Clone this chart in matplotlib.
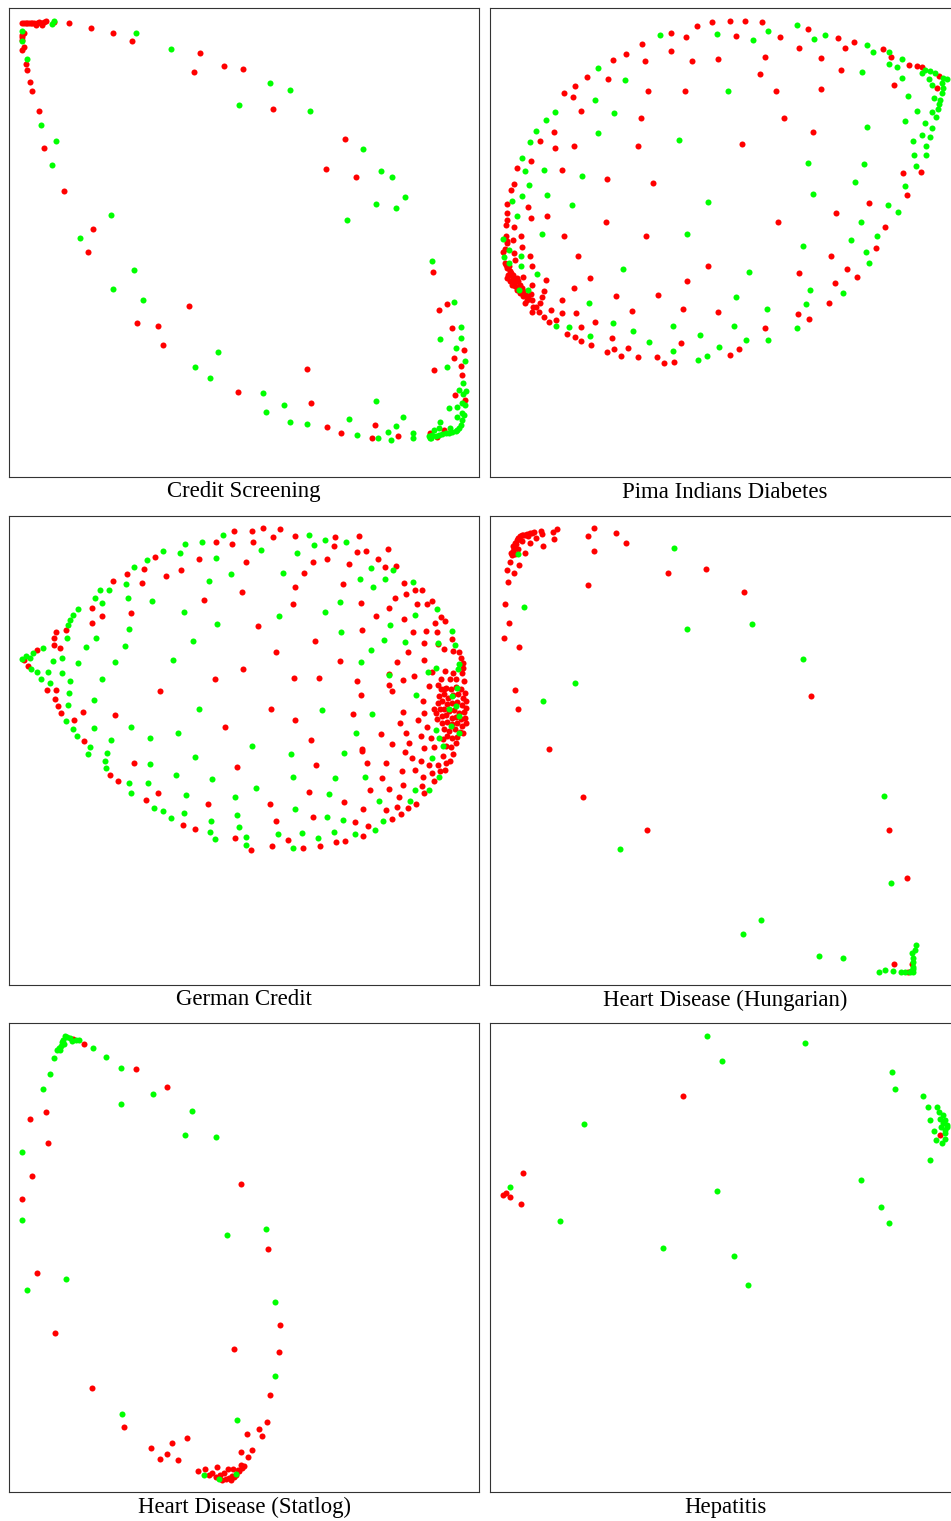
import matplotlib
matplotlib.use("Agg")
import matplotlib.pyplot as plt
import numpy as np

titles = ["Credit Screening", "Pima Indians Diabetes", "German Credit",
          "Heart Disease (Hungarian)", "Heart Disease (Statlog)", "Hepatitis"]

# ---- Credit Screening ----
credit_red = [(40,45),(45,44),(50,45),(55,44),(60,45),(65,44),(70,46),(75,45),(80,52),(85,44),(90,42),(95,44),
 (100,50),(105,42),(110,38),(135,42),(180,46),(247,60),(311,74),(369,100),(572,134),(554,192),(644,174),(703,183),
 (793,303),(1007,393),(950,484),(1040,507),(166,548),(252,663),(45,75),(40,80),(40,88),(40,95),(45,118),(40,126),
 (51,168),(53,185),(64,221),(68,250),(89,309),(105,421),
 (237,733),(383,945),(447,955),(462,1012),(539,895),(688,1153),(894,1084),(907,1185),(954,1258),(997,1274),
 (1089,1291),(1098,1251),(1167,1285),(1271,791),(1290,907),(1315,888),(1329,959),(1366,1027),(1335,1050),
 (1356,1075),(1275,1086),(1359,1100),(1338,1162),(1367,1175),(1263,1275),(1285,1287),(1305,1267)]
credit_green = [(135,38),(128,48),(382,75),(487,122),(783,224),(843,247),(690,292),(904,310),(1063,422),(1116,488),
 (1150,506),(1188,567),(1101,589),(1162,601),(1015,637),(305,620),(214,690),(55,154),(97,352),(142,400),(128,472),
 (38,70),(40,100),
 (375,787),(313,842),(401,877),(627,1032),(557,1076),(602,1111),(763,1155),(770,1213),(826,1190),(844,1241),
 (895,1247),(1019,1233),(1045,1281),(1101,1180),(1107,1290),(1137,1273),(1145,1295),(1161,1255),(1182,1228),
 (1212,1276),(1211,1290),(1262,1291),(1269,758),(1335,883),(1355,958),(1294,992),(1356,991),(1341,1020),
 (1369,1060),(1314,1076),(1363,1126),(1351,1147),(1370,1148),(1362,1157),(1358,1185),(1368,1192),(1320,1201),
 (1344,1197),(1343,1226),(1360,1215),(1364,1220),(1294,1243),(1276,1267),(1291,1260),(1268,1280),(1265,1291),
 (1324,1261),(1350,1260),(1300,1278),(1310,1275),(1320,1275),(1330,1273),(1340,1270),(1355,1250),(1360,1235),
 (1345,1265),(1260,1285),(1280,1283),(1290,1280)]

# ---- Pima Indians Diabetes ----
pima_red = [(620,55),(666,41),(719,38),(766,40),(815,41),(955,62),(544,75),(587,87),(739,83),(870,86),(1043,90),
 (1092,103),(1065,121),(927,121),(1178,122),(1204,147),(455,109),(408,138),(368,156),(466,160),(543,130),(606,159),
 (685,154),(824,147),(993,150),(1052,187),(1257,171),(1281,173),(1297,177),(1347,205),(1341,241),(1211,232),
 (811,197),(292,206),(353,213),(256,235),(222,254),(250,268),(474,248),(585,249),(857,250),(994,244),(273,308),
 (453,331),(882,330),(191,373),(151,400),(194,421),(251,413),(445,415),(756,409),(970,372),(124,459),(81,481),
 (216,486),(350,512),(488,526),(71,528),(63,547),(52,588),(113,596),(51,615),(50,636),(123,630),(171,624),(47,652),
 (72,657),(347,641),(864,641),(1039,615),(1136,586),(1184,656),(1250,561),(1292,492),(1239,494),(48,684),(93,684),
 (223,683),(469,685),(52,700),(70,697),
 (52,705),(96,717),(44,723),(40,731),(72,735),(120,745),(75,757),(264,743),(126,775),(44,765),(50,780),(60,790),
 (55,800),(65,805),(52,810),(60,820),(70,815),(99,808),(167,817),(65,830),(75,835),(80,845),(90,855),(100,865),
 (110,875),(105,885),(126,830),(162,848),(123,857),(156,867),(215,875),(127,877),(149,886),(137,896),(130,898),
 (126,912),(147,912),(183,906),(216,916),(259,916),(162,926),(178,941),(198,936),(252,841),(301,810),(378,865),
 (427,909),(504,861),(590,819),(654,773),(578,904),(684,912),(926,795),(1022,743),(1071,783),(1101,808),(1036,826),
 (1017,886),(923,918),(957,934),(824,960),(1158,720),(231,977),(254,987),(273,956),(274,998),(304,1010),(314,941),
 (367,991),(350,1031),(373,1024),(414,1019),(392,1044),(444,1048),(501,1047),(522,1065),(552,1062),(574,1004),
 (719,1042),(746,1022),
 (48,770),(58,775),(62,795),(70,800),(80,810),(85,820),(90,830),(95,840),(72,825),(82,838),(92,848),(100,850),
 (108,860),(115,868)]
pima_green = [(510,81),(681,79),(833,68),(788,96),(922,50),(971,93),(1006,80),(1132,110),(1149,131),(1196,131),
 (1196,167),(1236,154),(1222,177),(1305,185),(1295,196),(1320,190),(1335,195),(1318,212),(1359,210),(1370,212),
 (1355,225),(1326,230),(1360,240),(1355,255),(1333,270),(1350,275),(1347,288),(1345,303),(1338,328),(1327,311),
 (1282,308),(1236,209),(1255,265),(1245,340),(1306,346),(1327,359),(1295,380),(1320,387),(1268,398),(1309,415),
 (1307,440),(1273,441),(1277,475),(1245,534),(1195,590),(1225,611),(1114,641),(1161,683),(1082,697),(1116,192),
 (1130,358),(1122,468),(1095,523),(954,464),(970,558),(653,581),(590,679),(567,397),(715,248),(323,179),(406,216),
 (316,275),(372,315),(324,375),(196,313),(167,336),(138,369),(119,403),(95,449),(106,490),(163,487),(277,504),
 (118,531),(95,564),(170,560),(67,579),(247,591),(80,623),(155,679),(40,693),
 (58,727),(92,745),(42,747),(93,773),(140,799),(115,845),(86,846),(58,765),(197,955),(238,956),(298,886),(301,983),
 (370,944),(428,970),(400,784),(478,1001),(550,955),(549,1028),(631,982),(623,1057),(650,1045),(686,1016),
 (733,955),(739,868),(778,791),(769,996),(830,903),(833,995),(921,959),(947,887),(961,845),(1059,854),(939,714),
 (1128,732),(1137,766)]

# ---- German Credit ----
german_red = [(675,44),(729,45),(761,37),(813,38),(792,62),(857,59),(978,62),(620,79),(670,85),(732,78),(974,90),
 (1044,109),(1071,106),(1107,130),(1128,152),(1160,149),(954,130),(912,138),(1021,144),(885,170),(858,214),
 (853,264),(1001,205),(712,138),(571,130),(517,163),(472,179),(438,122),(405,159),(354,173),(312,195),(400,202),
 (700,229),(584,252),(366,292),(280,301),(249,275),(249,322),(141,349),(170,343),(134,366),(136,388),(152,396),
 (83,403),(45,432),(58,450),(747,331),(918,375),(802,408),(702,459),(618,488),(854,486),(929,486),(994,436),
 (452,526),(1045,496),(1056,537),(1150,526),(1163,437),(1197,408),(1245,433),(1270,468),(1215,480),(1182,492),
 (1141,475),(1186,308),(1213,349),(1245,382),(1251,344),(1285,348),(1287,383),(1277,321),(1296,302),(1309,316),
 (1328,370),(1306,398),(1333,406),(1349,408),(1357,425),(1362,440),(1331,472),(1362,455),(1307,465),(1297,490),
 (1322,488),(1342,488),(1366,494),(1360,470),(1225,264),(1253,265),(1268,256),(1141,275),(1159,245),(1191,234),
 (1219,222),(1240,223),(1185,201),(1100,300),(1060,342),(1055,260),(1260,511),(1286,508),(1306,520),(1140,507),
 (1243,556),(1276,578),(1245,592),(1182,589),(1172,622),(1228,612),(1253,633),(1190,650),(1235,660),(1265,665),
 (1303,670),(1150,683),(1201,681),(1245,696),(1276,693),(1310,690),(1327,693),(1340,680),(1115,655),(1031,594),
 (1060,699),(907,671),(858,611),(786,578),(649,634),(319,596),(222,588),(196,613),(225,674),(140,523),(139,548),
 (146,569),(157,590),(115,522),(1050,60),(1138,100),
 (1295,520),(1310,515),(1325,518),(1340,512),(1355,520),(1368,530),(1290,540),(1305,535),(1318,545),(1332,538),
 (1348,535),(1362,545),(1372,555),(1288,560),(1300,555),(1315,565),(1330,560),(1345,558),(1358,568),(1370,575),
 (1292,580),(1305,578),(1320,585),(1335,582),(1350,590),(1365,588),(1298,600),(1312,598),(1328,605),(1342,602),
 (1356,610),(1368,605),(1300,620),(1315,618),(1330,625),(1345,622),(1360,630),(1305,640),(1320,645),(1338,640),
 (1352,648),(1315,660),(1330,665),(1345,662),(1280,590),(1283,610),(1370,620),(1362,650),
 (302,777),(327,795),(375,742),(412,853),(447,832),(521,928),(558,939),(597,864),(677,967),(684,752),(726,1002),
 (784,864),(788,990),(802,914),(837,973),(882,997),(899,827),(913,902),(920,748),(934,991),(982,977),(1005,858),
 (1009,975),(1039,919),(1062,878),(1062,960),(1076,929),(1084,822),(1075,742),(1119,786),(1132,740),(1140,820),
 (1131,881),(1149,909),(1163,874),(1171,843),(1176,895),(1178,765),(1182,807),(1198,876),(1209,725),(1218,762),
 (1221,865),(1235,734),(1240,809),(1243,782),(1245,831),(1259,746),(1270,771),(1275,795),(1287,746),(1293,764),
 (1301,719),(1309,761),(1312,742),(1323,734),(1332,713),(1060,705),(1188,707)]
german_green = [(643,57),(578,77),(529,84),(463,105),(513,111),(413,132),(375,153),(350,205),(272,223),(300,223),
 (259,247),(279,262),(358,246),(428,254),(207,280),(191,296),(182,312),(177,326),(173,367),(101,395),(73,411),
 (62,425),(52,420),(40,430),(65,460),(83,467),(97,490),(124,500),(118,467),(131,436),(159,426),(158,472),(206,440),
 (230,392),(261,365),(347,391),(361,339),(318,437),(279,489),(182,494),(180,531),(256,552),(177,568),(170,614),
 (192,640),(204,661),(244,692),(255,636),(307,671),(367,634),(422,667),(508,652),(571,578),(493,432),(551,376),
 (624,323),(526,289),(600,196),(666,173),(620,125),(757,102),(822,172),(810,300),(865,111),(916,86),(949,73),
 (1010,78),(901,57),(947,289),(993,257),(995,347),(1053,190),(1086,157),(1091,214),(1127,189),(1151,162),
 (1142,327),(1125,372),(1087,401),(1057,438),(1187,379),(1219,296),(1211,199),(1284,279),(1328,345),(1339,386),
 (1286,382),(1351,445),(1346,460),(1280,455),(1258,469),(1141,476),(1220,536),(938,583),(1088,594),(1041,650),
 (728,689),(1280,643),(1290,665),(1301,690),(1351,651),(1345,515),(1330,540),(1340,570),(1320,580),(1350,600),
 (1325,630),
 (237,715),(295,710),(288,735),(291,757),(360,800),(367,832),(417,802),(423,745),(434,877),(462,884),(486,906),
 (501,776),(525,890),(532,837),(558,724),(605,915),(604,949),(618,970),(610,790),(678,844),(683,896),(690,932),
 (712,963),(710,988),(740,816),(807,955),(845,713),(852,784),(857,879),(853,995),(878,951),(927,965),(955,902),
 (959,835),(974,949),(979,786),(1001,913),(1006,712),(1037,955),(1069,782),(1097,942),(1109,855),(1121,916),
 (1203,854),(1218,821),(1260,821),(1270,725),(1290,784)]

# ---- Heart Disease (Hungarian) ----
hung_red = [(70,90),(75,80),(80,72),(85,65),(90,60),(95,58),(100,56),(105,57),(110,55),(115,60),(120,52),(125,50),
 (133,48),(78,85),(72,95),(68,105),(62,112),(66,118),(75,115),(85,100),(95,75),(88,70),(105,110),(120,80),(137,65),
 (152,44),(156,55),(158,91),(190,47),(202,40),(192,70),(294,61),(313,37),(378,50),(313,105),(408,82),(59,138),
 (87,148),(51,163),(71,170),(53,197),(295,207),(534,171),(647,158),(762,229),(46,263),(57,320),(41,365),(87,393),
 (75,523),(85,580),(178,700),(962,540),
 (278,844),(470,942),(1198,941),(1252,1086),(1212,1345),(1255,1368),(1265,1345)]
hung_green = [(84,113),(102,274),(552,97),(590,340),(785,323),(938,428),(255,500),(158,556),
 (391,998),(1183,840),(1202,1101),(813,1211),(758,1254),(988,1321),(1058,1327),(1168,1367),(1186,1361),(1210,1366),
 (1234,1367),(1245,1368),(1262,1365),(1268,1360),(1270,1353),(1268,1338),(1268,1325),(1265,1311),(1276,1303),
 (1277,1288),(1270,1368),(1260,1369)]

# ---- Heart Disease (Statlog) ----
stat_red = [(192,47),(226,62),(380,137),(474,191),(112,266),(63,287),(116,359),(69,459),(40,527),(696,484),(776,678),
 (85,751),(139,931),(248,1094),(344,1213),(426,1274),(452,1307),(474,1293),(488,1260),(506,1312),(535,1246),
 (566,1345),(587,1337),(600,1356),(610,1351),(624,1332),(622,1363),(632,1355),(645,1350),(658,1338),(672,1337),
 (686,1341),(695,1325),(705,1329),(698,1335),(690,1345),(680,1355),(670,1360),(660,1365),(650,1367),(640,1370),
 (665,1372),(675,1363),(630,1365),(696,1288),(714,1234),(717,1302),(730,1282),(750,1219),(759,1239),(773,1196),
 (783,1115),(811,988),(813,905),(676,978)]
stat_green = [(168,38),(175,42),(163,50),(160,56),(165,62),(155,68),(150,75),(145,82),(152,80),(190,55),(200,50),
 (210,52),(182,45),(251,76),(291,102),(335,135),(135,105),(122,152),(103,198),(335,244),(432,213),(548,263),
 (529,335),(620,342),(39,387),(40,592),(653,636),(772,617),
 (55,802),(170,768),(340,1173),(586,1357),(630,1367),(682,1353),(685,1191),(798,1059),(799,837)]

# ---- Hepatitis ----
hep_red = [(579,218),(98,449),(40,515),(47,510),(61,523),(93,542),(1351,337)]
hep_green = [(651,39),(945,60),(695,115),(1207,147),(1215,199),(1300,219),(1315,251),(1342,252),(1347,268),
 (1358,276),(1350,288),(1365,290),(1360,300),(1370,305),(1352,312),(1365,320),(1370,312),(1319,291),(1331,323),
 (1366,330),(1338,350),(1364,349),(1355,360),(1320,412),(1113,471),(1172,552),(1197,601),(680,503),(282,304),
 (209,594),(60,493),(519,675),(732,700),(773,786)]

panels = [(credit_red, credit_green), (pima_red, pima_green), (german_red, german_green),
          (hung_red, hung_green), (stat_red, stat_green), (hep_red, hep_green)]

W, H = 951, 1521
fig = plt.figure(figsize=(W/100, H/100), dpi=100)
lefts = [9, 490]
tops = [8, 516, 1023]
pw, ph = 470, 469

for i, (title, (red, green)) in enumerate(zip(titles, panels)):
    r, c = divmod(i, 2)
    l, t = lefts[c], tops[r]
    ax = fig.add_axes([l/W, 1-(t+ph)/H, pw/W, ph/H])
    rx, ry = zip(*red)
    gx, gy = zip(*green)
    ax.scatter(rx, ry, s=19, c='#ff0000', linewidths=0, zorder=2)
    ax.scatter(gx, gy, s=19, c='#00ff00', linewidths=0, zorder=3)
    ax.set_xlim(0, 1410)
    ax.set_ylim(1407, 0)
    ax.set_xticks([]); ax.set_yticks([])
    for sp in ax.spines.values():
        sp.set_linewidth(0.8)
        sp.set_color('#333333')
    fig.text((l+pw/2)/W, 1-(t+ph+15)/H, title, ha='center', va='center',
             family='Liberation Serif', fontsize=16.4)

fig.savefig('out.png', dpi=100)
